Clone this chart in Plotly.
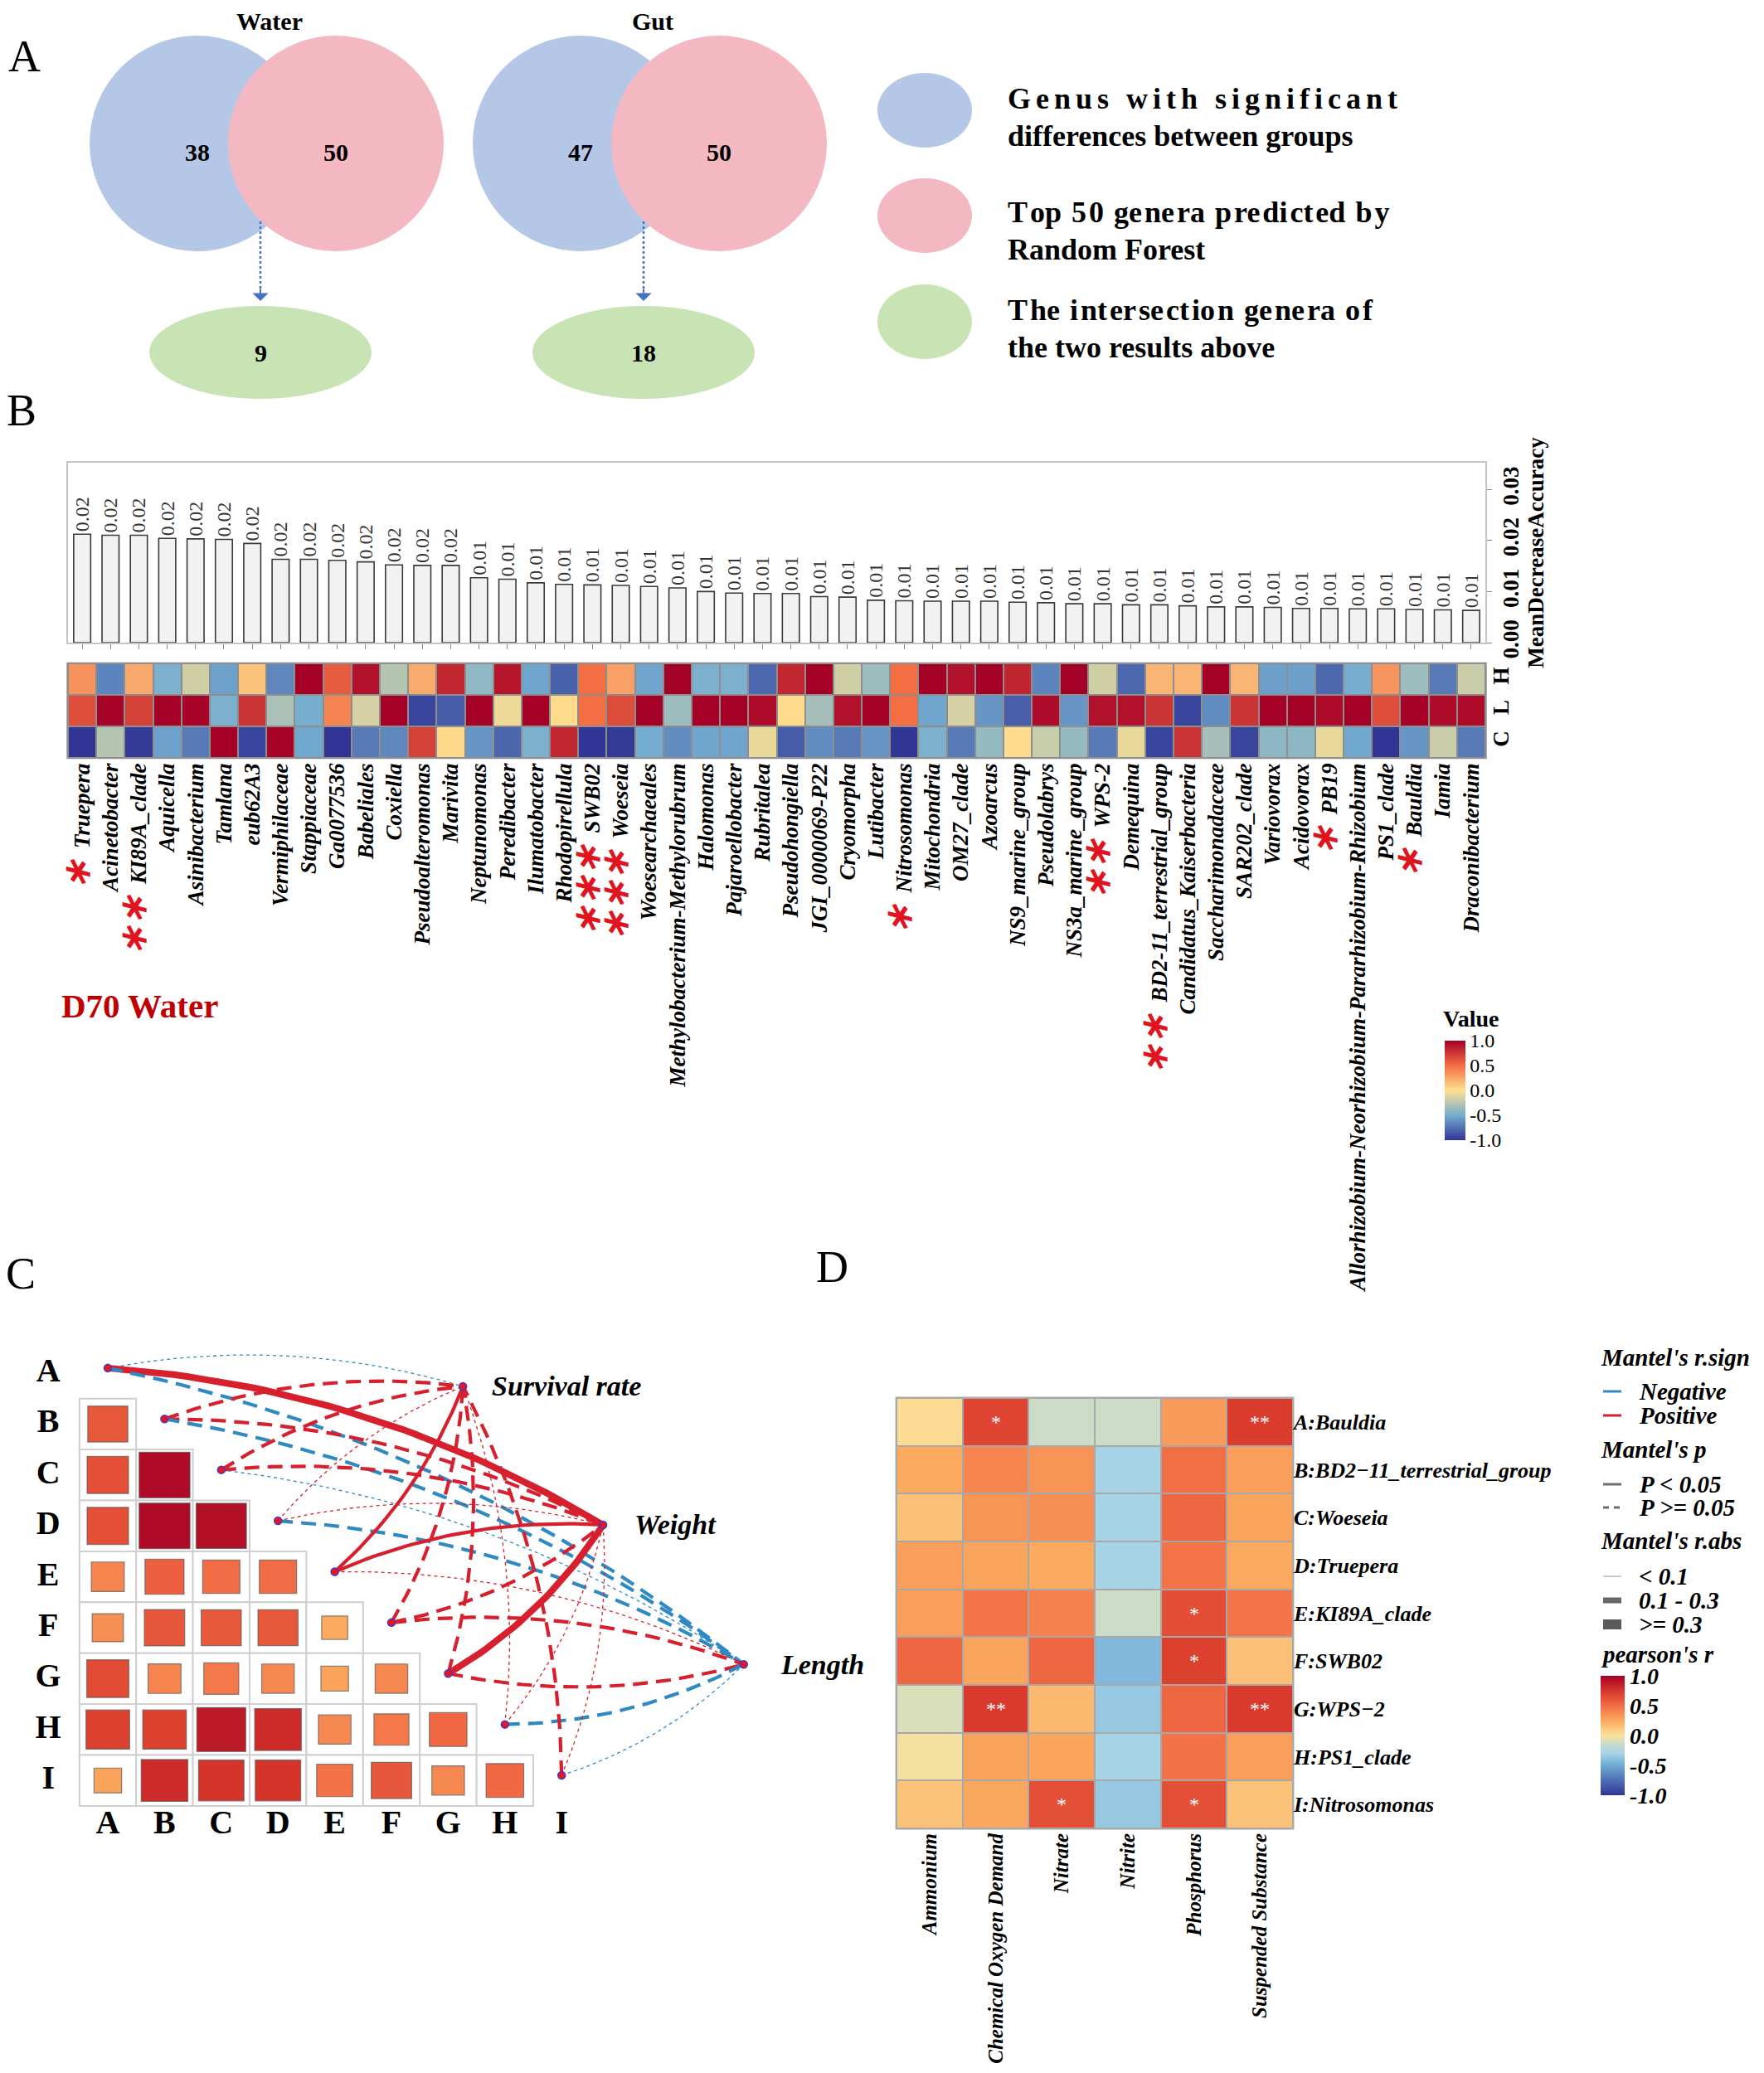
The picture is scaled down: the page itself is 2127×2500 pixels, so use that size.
import math
import plotly.graph_objects as go
from plotly.colors import sample_colorscale

W, H = 2127, 2500
SERIF = "Liberation Serif"

# ---------------- Panel A data ----------------
venn_titles = ["Water", "Gut"]
venn_sig_count = [38, 47]
venn_rf_count = [50, 50]
venn_intersection = [9, 18]
legend_lines = [["Genus with significant", "differences between groups"],
                ["Top 50 genera predicted by", "Random Forest"],
                ["The intersection genera of", "the two results above"]]

# ---------------- Panel B data ----------------
genera = ["Truepera", "Acinetobacter", "KI89A_clade", "Aquicella", "Asinibacterium", "Tamlana",
          "eub62A3", "Vermiphilaceae", "Stappiaceae", "Ga0077536", "Babeliales", "Coxiella",
          "Pseudoalteromonas", "Marivita", "Neptunomonas", "Peredibacter", "Ilumatobacter",
          "Rhodopirellula", "SWB02", "Woeseia", "Woesearchaeales", "Methylobacterium-Methylorubrum",
          "Halomonas", "Pajaroellobacter", "Rubritalea", "Pseudohongiella", "JGI_0000069-P22",
          "Cryomorpha", "Lutibacter", "Nitrosomonas", "Mitochondria", "OM27_clade", "Azoarcus",
          "NS9_marine_group", "Pseudolabrys", "NS3a_marine_group", "WPS-2", "Demequina",
          "BD2-11_terrestrial_group", "Candidatus_Kaiserbacteria", "Saccharimonadaceae",
          "SAR202_clade", "Variovorax", "Acidovorax", "PB19",
          "Allorhizobium-Neorhizobium-Pararhizobium-Rhizobium", "PS1_clade", "Bauldia", "Iamia",
          "Draconibacterium"]
mean_decrease_accuracy = [0.0212, 0.0210, 0.0210, 0.0204, 0.0203, 0.0202, 0.0194, 0.0163, 0.0163,
                          0.0161, 0.0158, 0.0152, 0.0151, 0.0151, 0.0127, 0.0124, 0.0117, 0.0114,
                          0.0113, 0.0112, 0.0110, 0.0107, 0.0100, 0.0097, 0.0096, 0.0096, 0.0090,
                          0.0089, 0.0083, 0.0082, 0.0081, 0.0081, 0.0081, 0.0079, 0.0078, 0.0076,
                          0.0076, 0.0074, 0.0074, 0.0072, 0.0070, 0.0070, 0.0069, 0.0067, 0.0067,
                          0.0066, 0.0066, 0.0065, 0.0064, 0.0063]
significance = {"Truepera": "*", "KI89A_clade": "**", "SWB02": "***", "Woeseia": "***",
                "Nitrosomonas": "*", "WPS-2": "**", "BD2-11_terrestrial_group": "**",
                "PB19": "*", "Bauldia": "*"}
heat_rows = ["C", "L", "H"]
heat_H = [0.34, -0.67, 0.24, -0.47, -0.17, -0.55, 0.13, -0.66, 1.0, 0.58, 0.92, -0.26, 0.23, 0.82,
          -0.40, 0.90, -0.53, -0.82, 0.50, 0.28, -0.53, 1.0, -0.47, -0.47, -0.79, 0.82, 1.0, -0.17,
          -0.35, 0.50, 1.0, 0.92, 1.0, 0.83, -0.67, 1.0, -0.17, -0.79, 0.19, 0.19, 1.0, 0.19,
          -0.56, -0.56, -0.79, -0.49, 0.33, -0.35, -0.71, -0.19]
heat_L = [0.64, 0.98, 0.70, 1.0, 0.98, -0.47, 0.76, -0.30, -0.49, 0.40, -0.15, 1.0, -0.94, -0.84,
          1.0, -0.06, 1.0, 0.02, 0.50, 0.65, 1.0, -0.35, 1.0, 1.0, 0.95, 0.02, -0.32, 0.92, 1.0,
          0.50, -0.53, -0.15, -0.60, -0.83, 0.95, -0.60, 0.92, 0.92, 0.76, -0.94, -0.64, 0.76, 1.0,
          1.0, 0.95, 1.0, 0.64, 1.0, 0.95, 0.95]
heat_C = [-1.0, -0.26, -0.98, -0.55, -0.71, 1.0, -0.94, 0.98, -0.52, -1.0, -0.71, -0.66, 0.70,
          0.03, -0.60, -0.80, -0.47, 0.82, -1.0, -0.98, -0.50, -0.64, -0.53, -0.53, -0.08, -0.84,
          -0.64, -0.71, -0.60, -1.0, -0.47, -0.71, -0.38, 0.02, -0.20, -0.38, -0.71, -0.08, -0.94,
          0.76, -0.32, -0.94, -0.41, -0.41, -0.08, -0.52, -1.0, -0.60, -0.19, -0.71]
value_ticks = [-1.0, -0.5, 0.0, 0.5, 1.0]

# ---------------- Panel C data ----------------
corr_labels = ["A", "B", "C", "D", "E", "F", "G", "H", "I"]
# lower triangle: row i holds r with columns 0..i-1
corr_lower = [
    [],
    [0.59],
    [0.63, 0.95],
    [0.63, 0.95, 0.93],
    [0.40, 0.56, 0.51, 0.51],
    [0.36, 0.60, 0.59, 0.59, 0.25],
    [0.65, 0.40, 0.45, 0.39, 0.28, 0.39],
    [0.70, 0.70, 0.88, 0.80, 0.39, 0.45, 0.52],
    [0.28, 0.80, 0.76, 0.76, 0.48, 0.60, 0.39, 0.52],
]
env_traits = ["Survival rate", "Weight", "Length"]
mantel_r = [  # rows A..I, columns Survival rate, Weight, Length
    [-0.05, 0.36, -0.18],
    [0.15, 0.18, -0.16],
    [0.14, 0.17, -0.06],
    [0.05, 0.07, -0.15],
    [0.22, 0.21, 0.04],
    [0.13, 0.16, 0.17],
    [0.14, 0.38, 0.18],
    [0.03, 0.05, -0.19],
    [0.16, 0.06, -0.04],
]
mantel_p = [
    [0.60, 0.01, 0.12],
    [0.20, 0.10, 0.15],
    [0.20, 0.13, 0.50],
    [0.60, 0.50, 0.16],
    [0.03, 0.04, 0.70],
    [0.25, 0.18, 0.14],
    [0.20, 0.01, 0.11],
    [0.80, 0.60, 0.09],
    [0.15, 0.50, 0.70],
]

# ---------------- Panel D data ----------------
d_genera = ["A:Bauldia", "B:BD2\u221211_terrestrial_group", "C:Woeseia", "D:Truepera",
            "E:KI89A_clade", "F:SWB02", "G:WPS\u22122", "H:PS1_clade", "I:Nitrosomonas"]
env_factors = ["Ammonium", "Chemical Oxygen Demand", "Nitrate", "Nitrite", "Phosphorus",
               "Suspended Substance"]
d_r = [
    [0.03, 0.68, -0.12, -0.12, 0.31, 0.72],
    [0.25, 0.40, 0.34, -0.30, 0.49, 0.30],
    [0.15, 0.34, 0.36, -0.30, 0.53, 0.27],
    [0.30, 0.27, 0.25, -0.30, 0.47, 0.25],
    [0.30, 0.47, 0.42, -0.12, 0.64, 0.47],
    [0.53, 0.27, 0.53, -0.43, 0.70, 0.15],
    [-0.09, 0.73, 0.18, -0.35, 0.53, 0.73],
    [-0.02, 0.28, 0.27, -0.30, 0.48, 0.30],
    [0.14, 0.26, 0.63, -0.35, 0.63, 0.14],
]
d_sig = [
    ["", "*", "", "", "", "**"],
    ["", "", "", "", "", ""],
    ["", "", "", "", "", ""],
    ["", "", "", "", "", ""],
    ["", "", "", "", "*", ""],
    ["", "", "", "", "*", ""],
    ["", "**", "", "", "", "**"],
    ["", "", "", "", "", ""],
    ["", "", "*", "", "*", ""],
]

# ---------------- styles ----------------
PAL_B = [[0, "#313695"], [0.25, "#74ADD1"], [0.5, "#FEE090"], [0.75, "#F46D43"], [1, "#A50026"]]
PAL_D = [[0, "#313695"], [0.25, "#6FAAD5"], [0.35, "#A6D3E6"], [0.44, "#CDDCC6"],
         [0.5, "#FCE29A"], [0.625, "#FBAA60"], [0.75, "#F26D45"], [0.875, "#D7362B"],
         [1, "#A50026"]]
RED = "#D7202E"
BLUE = "#2F8AC4"
OX, OY = -6, -7   # global nudge of the layout


def px(x):
    return (x + OX) / W


def py(y):
    return 1 - (y + OY) / H


annotations = []
shapes = []


def ann(text, x, y, size, xanchor="center", yanchor="middle", color="black", family=SERIF):
    annotations.append(dict(text=text, x=px(x), y=py(y), xref="paper", yref="paper",
                            showarrow=False, xanchor=xanchor, yanchor=yanchor,
                            font=dict(family=family, size=size, color=color)))


def ellipse(cx, cy, rx, ry, color):
    shapes.append(dict(type="circle", xref="paper", yref="paper", x0=px(cx - rx), x1=px(cx + rx),
                       y0=py(cy + ry), y1=py(cy - ry), fillcolor=color, line=dict(width=0),
                       layer="below"))


def spaced(s, sep, every=1):
    out = ""
    for n, ch in enumerate(s):
        out += ch
        if n < len(s) - 1 and n % every == 0:
            out += sep
    return out


fig = go.Figure()

# ================= Panel A =================
BLUE_V, PINK_V, GREEN_V = "#B4C7E7", "#F4B8C2", "#C9E4B4"
venn_cx = [236, 698]
for k in range(2):
    cx = venn_cx[k]
    ellipse(cx, 172, 130, 130, BLUE_V)
    ellipse(cx + 167, 172, 130, 130, PINK_V)
    ellipse(cx + 76, 424, 134, 56, GREEN_V)
    ann(f"<b>{venn_titles[k]}</b>", cx + 87, 25, 30)
    ann(f"<b>{venn_sig_count[k]}</b>", cx, 182, 30)
    ann(f"<b>{venn_rf_count[k]}</b>", cx + 167, 182, 30)
    ann(f"<b>{venn_intersection[k]}</b>", cx + 76, 424, 30)
    ax_x = cx + 76
    shapes.append(dict(type="line", xref="paper", yref="paper", x0=px(ax_x), x1=px(ax_x),
                       y0=py(266), y1=py(350), line=dict(color="#4472C4", width=2.5, dash="dot")))
    annotations.append(dict(text="", x=px(ax_x), y=py(362), xref="paper", yref="paper",
                            showarrow=True, ax=0, ay=-16, arrowhead=1, arrowsize=1.6,
                            arrowwidth=2, arrowcolor="#4472C4"))

leg_cy = [132, 259, 387]
for k, col in enumerate([BLUE_V, PINK_V, GREEN_V]):
    ellipse(1113, leg_cy[k], 57, 45, col)
leg_y = [(118, 163), (255, 300), (373, 418)]
first_fmt = [("\u2006", 1), ("\u200a", 2), ("\u200a", 2)]
for k in range(3):
    sep, every = first_fmt[k]
    ann(f"<b>{spaced(legend_lines[k][0], sep, every)}</b>", 1211, leg_y[k][0], 36,
        xanchor="left")
    ann(f"<b>{legend_lines[k][1]}</b>", 1211, leg_y[k][1], 36, xanchor="left")

# panel letters
ann("A", 27, 67, 54)
ann("B", 24, 494, 54)
ann("C", 23, 1535, 54)
ann("D", 1001, 1527, 54)

# ================= Panel B =================
xs = list(range(len(genera)))
fig.add_trace(go.Bar(
    x=xs, y=mean_decrease_accuracy, width=0.6,
    marker=dict(color="#F2F2F2", line=dict(color="#3A3A3A", width=1.6)),
    text=[f"{v:.2f}" for v in mean_decrease_accuracy], textposition="outside", textangle=-90,
    constraintext="none", textfont=dict(family=SERIF, size=24, color="#333333"),
    cliponaxis=False, xaxis="x", yaxis="y", showlegend=False, hoverinfo="skip"))

tick_text_B = []
for g in genera:
    s = significance.get(g, "")
    if s:
        star = "\u2217" * len(s)
        tick_text_B.append(f"<span style='color:#E0141E;font-size:44px'>{star}</span>  {g}")
    else:
        tick_text_B.append(g)

fig.add_trace(go.Heatmap(
    z=[heat_C, heat_L, heat_H], x=xs, y=heat_rows, zmin=-1, zmax=1, colorscale=PAL_B,
    xgap=2, ygap=2, xaxis="x2", yaxis="y2", hoverinfo="skip",
    colorbar=dict(x=px(1740), xanchor="left", y=py(1314), yanchor="middle", len=120,
                  lenmode="pixels", thickness=25, thicknessmode="pixels", outlinewidth=0,
                  xpad=0, ypad=0, ticks="",
                  tickvals=value_ticks, ticktext=[f"{v:.1f}" for v in value_ticks],
                  tickfont=dict(family=SERIF, size=24, color="black"))))
ann("<b>Value</b>", 1736, 1228, 28, xanchor="left")
shapes.append(dict(type="rect", xref="x2 domain", yref="y2 domain", x0=-0.001, x1=1.001,
                   y0=-0.012, y1=1.012, fillcolor="#8E8E8E", line=dict(width=0), layer="below"))

ann("<b>D70 Water</b>", 70, 1212, 41, xanchor="left", color="#C00000")

# ================= Panel C =================
SX, SY = 68.4, 61.4   # px per unit in panel C axes
A_X, A_Y = 128, 1655  # pixel centre of cell (A, A)
for i in range(1, 9):
    for j in range(i):
        shapes.append(dict(type="rect", xref="x3", yref="y3", x0=j - 0.5, x1=j + 0.5,
                           y0=i - 0.5, y1=i + 0.5, fillcolor="white",
                           line=dict(color="#CFCFCF", width=2), layer="below"))
        r = corr_lower[i][j]
        half = math.sqrt(abs(r)) * 0.46
        colr = sample_colorscale(PAL_D, [(r + 1) / 2])[0]
        shapes.append(dict(type="rect", xref="x3", yref="y3", x0=j - half, x1=j + half,
                           y0=i - half, y1=i + half, fillcolor=colr,
                           line=dict(color="rgba(90,90,90,0.7)", width=1.2), layer="below"))

env_pos = [(6.26, 0.26), (8.73, 2.98), (11.21, 5.72)]
node_pos = [(i, i - 0.1) for i in range(9)]
cen = (2.5 * SX, 5.5 * SY)
for i in range(9):
    for k in range(3):
        r = mantel_r[i][k]
        p = mantel_p[i][k]
        x0, y0 = node_pos[i][0] * SX, node_pos[i][1] * SY
        x1, y1 = env_pos[k][0] * SX, env_pos[k][1] * SY
        dx, dy = x1 - x0, y1 - y0
        L = math.hypot(dx, dy)
        nx, ny = dy / L, -dx / L
        mx, my = (x0 + x1) / 2, (y0 + y1) / 2
        if nx * (mx - cen[0]) + ny * (my - cen[1]) < 0:
            nx, ny = -nx, -ny
        cx, cy = mx + 0.12 * L * nx, my + 0.12 * L * ny
        bx, by = [], []
        for s in range(41):
            t = s / 40
            bx.append(((1 - t) ** 2 * x0 + 2 * (1 - t) * t * cx + t ** 2 * x1) / SX)
            by.append(((1 - t) ** 2 * y0 + 2 * (1 - t) * t * cy + t ** 2 * y1) / SY)
        a = abs(r)
        if a < 0.1:
            wdt, dash = 1.3, ("solid" if p < 0.05 else "4px,4px")
        elif a < 0.3:
            wdt, dash = 4.2, ("solid" if p < 0.05 else "18px,10px")
        else:
            wdt, dash = 8, ("solid" if p < 0.05 else "22px,12px")
        fig.add_trace(go.Scatter(x=bx, y=by, mode="lines", xaxis="x3", yaxis="y3",
                                 line=dict(color=RED if r > 0 else BLUE, width=wdt, dash=dash),
                                 showlegend=False, hoverinfo="skip", cliponaxis=False))

fig.add_trace(go.Scatter(
    x=[p[0] for p in node_pos] + [p[0] for p in env_pos],
    y=[p[1] for p in node_pos] + [p[1] for p in env_pos],
    mode="markers", xaxis="x3", yaxis="y3", showlegend=False, hoverinfo="skip",
    cliponaxis=False,
    marker=dict(size=9, color="#E8141E", line=dict(color="#3B3BD0", width=1.5))))

fig.add_trace(go.Scatter(
    x=[-1.05] * 9 + list(range(9)), y=list(range(9)) + [8.87] * 9,
    text=corr_labels + corr_labels, mode="text", xaxis="x3", yaxis="y3",
    textfont=dict(family=SERIF, size=40, color="black", weight="bold"),
    showlegend=False, hoverinfo="skip", cliponaxis=False))

env_label_x = [6.74, 9.25, 11.83]
for k in range(3):
    annotations.append(dict(text=f"<b><i>{env_traits[k]}</i></b>", x=env_label_x[k],
                            y=env_pos[k][1], xref="x3", yref="y3", showarrow=False,
                            xanchor="left", yanchor="middle",
                            font=dict(family=SERIF, size=34, color="black")))

# ================= Panel D =================
fig.add_trace(go.Heatmap(
    z=d_r, x=env_factors, y=d_genera, zmin=-1, zmax=1, colorscale=PAL_D, xgap=2, ygap=2,
    text=d_sig, texttemplate="%{text}", textfont=dict(family=SERIF, size=24, color="white"),
    xaxis="x4", yaxis="y4", hoverinfo="skip",
    colorbar=dict(x=px(1928), xanchor="left", y=py(2092), yanchor="middle", len=144,
                  lenmode="pixels", thickness=29, thicknessmode="pixels", outlinewidth=0,
                  xpad=0, ypad=0, ticks="",
                  tickvals=value_ticks, ticktext=[f"{v:.1f}" for v in value_ticks],
                  tickfont=dict(family=SERIF, size=28, color="black", weight="bold",
                                style="italic"))))
shapes.append(dict(type="rect", xref="x4 domain", yref="y4 domain", x0=-0.003, x1=1.003,
                   y0=-0.003, y1=1.003, fillcolor="#A8A8A8", line=dict(width=0), layer="below"))

# Mantel legend
LT, LE = 29, 29
ann("<b><i>Mantel's r.sign</i></b>", 1926, 1636, LT, xanchor="left")
ann("<b><i>Negative</i></b>", 1972, 1677, LE, xanchor="left")
ann("<b><i>Positive</i></b>", 1972, 1706, LE, xanchor="left")
ann("<b><i>Mantel's p</i></b>", 1926, 1747, LT, xanchor="left")
ann("<b><i>P &lt; 0.05</i></b>", 1972, 1789, LE, xanchor="left")
ann("<b><i>P &gt;= 0.05</i></b>", 1972, 1817, LE, xanchor="left")
ann("<b><i>Mantel's r.abs</i></b>", 1926, 1857, LT, xanchor="left")
ann("<b><i>&lt; 0.1</i></b>", 1972, 1900, LE, xanchor="left")
ann("<b><i>0.1 - 0.3</i></b>", 1972, 1929, LE, xanchor="left")
ann("<b><i>&gt;= 0.3</i></b>", 1972, 1958, LE, xanchor="left")
ann("<b><i>pearson's r</i></b>", 1926, 1994, LT, xanchor="left")


def legline(y, color, width, dash="solid"):
    shapes.append(dict(type="line", xref="paper", yref="paper", x0=px(1931), x1=px(1953),
                       y0=py(y), y1=py(y), line=dict(color=color, width=width, dash=dash)))


legline(1677, BLUE, 3)
legline(1706, RED, 3)
legline(1789, "#6E6E6E", 3)
legline(1817, "#6E6E6E", 3, "7px,6px")
legline(1900, "#C8C8C8", 2)
legline(1929, "#666666", 7)
legline(1958, "#5A5A5A", 12)

# ================= Layout =================
noaxis = dict(showgrid=False, zeroline=False, showline=False, ticks="", showticklabels=False)
C_LEFT, C_RIGHT, C_TOP, C_BOTTOM = 10, 1000, 1560, 2300
fig.update_layout(
    width=W, height=H, margin=dict(l=0, r=0, t=0, b=0), template="none",
    paper_bgcolor="white", plot_bgcolor="rgba(0,0,0,0)", showlegend=False,
    font=dict(family=SERIF, color="black"),
    annotations=annotations, shapes=shapes,
    xaxis=dict(domain=[px(80), px(1789)], range=[-0.5, 49.5], anchor="y", showgrid=False,
               zeroline=False, showline=True, linecolor="#C4C4C4", linewidth=2, mirror=True,
               ticks="outside", ticklen=6, tickcolor="#8A8A8A", tickvals=xs,
               showticklabels=False),
    yaxis=dict(domain=[py(774), py(557)], range=[0, 0.0352], anchor="x", side="right",
               showgrid=False, zeroline=False, showline=True, linecolor="#C4C4C4",
               linewidth=2, mirror=True, ticks="outside", ticklen=6, tickcolor="#8A8A8A",
               tickvals=[0, 0.01, 0.02, 0.03], ticktext=["0.00", "0.01", "0.02", "0.03"],
               tickangle=-90, tickfont=dict(family=SERIF, size=27, weight="bold"),
               title=dict(text="MeanDecreaseAccuracy", standoff=4,
                          font=dict(family=SERIF, size=27, weight="bold"))),
    xaxis2=dict(domain=[px(80), px(1789)], range=[-0.5, 49.5], anchor="y2", showgrid=False,
                zeroline=False, showline=False, ticks="", tickvals=xs, ticktext=tick_text_B,
                tickangle=-90,
                tickfont=dict(family=SERIF, size=27, weight="bold", style="italic")),
    yaxis2=dict(domain=[py(913), py(799)], anchor="x2", side="right", showgrid=False,
                zeroline=False, showline=False, ticks="", tickangle=-90,
                tickfont=dict(family=SERIF, size=27, weight="bold")),
    xaxis3=dict(domain=[px(C_LEFT), px(C_RIGHT)],
                range=[(C_LEFT - A_X) / SX, (C_RIGHT - A_X) / SX], anchor="y3", **noaxis),
    yaxis3=dict(domain=[py(C_BOTTOM), py(C_TOP)],
                range=[(C_BOTTOM - A_Y) / SY, (C_TOP - A_Y) / SY], anchor="x3", **noaxis),
    xaxis4=dict(domain=[px(1079), px(1557)], anchor="y4", showgrid=False, zeroline=False,
                showline=False, ticks="", tickangle=-90,
                tickfont=dict(family=SERIF, size=25, weight="bold", style="italic")),
    yaxis4=dict(domain=[py(2204), py(1685)], anchor="x4", side="right", autorange="reversed",
                showgrid=False, zeroline=False, showline=False, ticks="",
                tickfont=dict(family=SERIF, size=26, weight="bold", style="italic")),
)

fig.write_html("out.html")
